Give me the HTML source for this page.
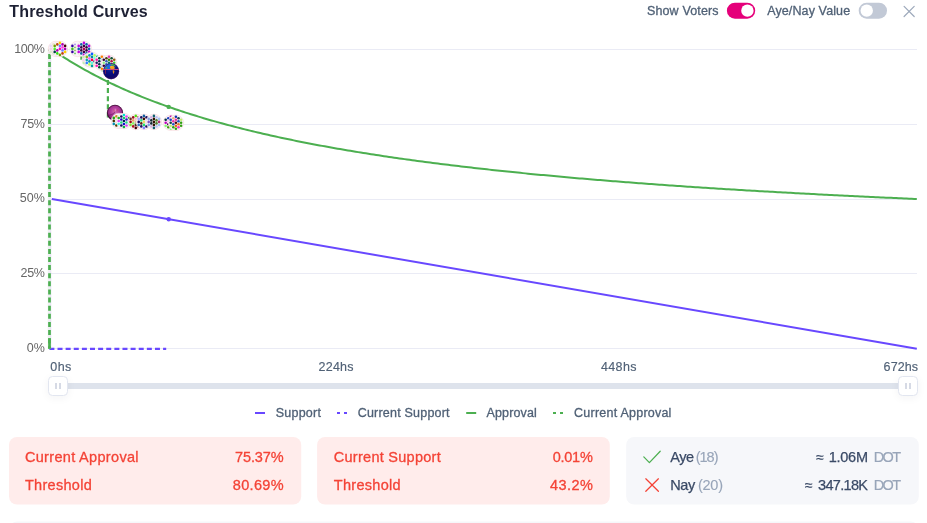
<!DOCTYPE html>
<html><head><meta charset="utf-8"><title>Threshold Curves</title>
<style>
html,body{margin:0;padding:0;background:#fff;}
body{width:927px;height:523px;overflow:hidden;position:relative;font-family:"Liberation Sans",sans-serif;color:#1E2134;}
.chart{position:absolute;left:0;top:0;font-family:"Liberation Sans",sans-serif;}
.tog{position:absolute;top:2.6px;width:28.3px;height:16px;border-radius:8px;}
.tog i{position:absolute;top:1.8px;width:12.4px;height:12.4px;border-radius:50%;background:#fff;}
.track{position:absolute;left:58px;top:383.3px;width:850px;height:5.6px;background:#DEE3EC;}
.handle{position:absolute;top:376.1px;width:18px;height:17.6px;background:#fff;border:1px solid #E2E6F0;border-radius:4.5px;box-shadow:0 2px 8px rgba(30,33,52,0.05);}
.handle:before,.handle:after{content:"";position:absolute;top:6px;width:1.9px;height:5.8px;background:#D6DAE5;}
.handle:before{left:5.9px}.handle:after{left:10px}
</style></head><body>
<svg class="chart" width="927" height="523" viewBox="0 0 927 523">
<line x1="49" x2="917" y1="49.5" y2="49.5" stroke="#EAEBF5" stroke-width="1"/>
<line x1="49" x2="917" y1="124.5" y2="124.5" stroke="#EAEBF5" stroke-width="1"/>
<line x1="49" x2="917" y1="199.5" y2="199.5" stroke="#EAEBF5" stroke-width="1"/>
<line x1="49" x2="917" y1="273.5" y2="273.5" stroke="#EAEBF5" stroke-width="1"/>
<line x1="49" x2="917" y1="348.5" y2="348.5" stroke="#EAEBF5" stroke-width="1"/>
<line x1="48.3" x2="48.3" y1="49" y2="348.5" stroke="#E4E6EC" stroke-width="0.7"/>
<text x="26.8" y="351.8" font-size="12.5" fill="#666" textLength="18.0" lengthAdjust="spacing">0%</text>
<text x="20.6" y="277.1" font-size="12.5" fill="#666" textLength="24.2" lengthAdjust="spacing">25%</text>
<text x="19.7" y="202.3" font-size="12.5" fill="#666" textLength="25.1" lengthAdjust="spacing">50%</text>
<text x="20.6" y="127.6" font-size="12.5" fill="#666" textLength="24.2" lengthAdjust="spacing">75%</text>
<text x="14.2" y="52.9" font-size="12.5" fill="#666" textLength="30.6" lengthAdjust="spacing">100%</text>
<text x="50.3" y="370.8" font-size="12.5" fill="#506176" textLength="21.0" lengthAdjust="spacing" stroke="#506176" stroke-width="0.15">0hs</text>
<text x="318.6" y="370.8" font-size="12.5" fill="#506176" textLength="34.8" lengthAdjust="spacing" stroke="#506176" stroke-width="0.15">224hs</text>
<text x="600.9" y="370.8" font-size="12.5" fill="#506176" textLength="35.6" lengthAdjust="spacing" stroke="#506176" stroke-width="0.15">448hs</text>
<text x="883.6" y="370.8" font-size="12.5" fill="#506176" textLength="34.4" lengthAdjust="spacing" stroke="#506176" stroke-width="0.15">672hs</text>
<path d="M51.80 199.00 L916.80 348.70" fill="none" stroke="#6848FF" stroke-width="2" stroke-linejoin="round"/>
<path d="M51.80 49.30 L54.37 51.07 L56.95 52.80 L59.52 54.51 L62.10 56.18 L64.67 57.83 L67.25 59.45 L69.82 61.04 L72.40 62.61 L74.97 64.15 L77.54 65.66 L80.12 67.15 L82.69 68.62 L85.27 70.06 L87.84 71.48 L90.42 72.87 L92.99 74.25 L95.56 75.60 L98.14 76.94 L100.71 78.25 L103.29 79.54 L105.86 80.82 L108.44 82.07 L111.01 83.31 L113.59 84.52 L116.16 85.72 L118.73 86.91 L121.31 88.07 L123.88 89.22 L126.46 90.35 L129.03 91.47 L131.61 92.57 L134.18 93.66 L136.76 94.73 L139.33 95.78 L141.90 96.82 L144.48 97.85 L147.05 98.87 L149.63 99.87 L152.20 100.85 L154.78 101.83 L157.35 102.79 L159.93 103.74 L162.50 104.67 L165.07 105.60 L167.65 106.51 L170.22 107.41 L172.80 108.30 L175.37 109.18 L177.95 110.05 L180.52 110.90 L183.09 111.75 L185.67 112.59 L188.24 113.41 L190.82 114.23 L193.39 115.04 L195.97 115.83 L198.54 116.62 L201.12 117.40 L203.69 118.17 L206.26 118.93 L208.84 119.68 L211.41 120.42 L213.99 121.16 L216.56 121.88 L219.14 122.60 L221.71 123.31 L224.29 124.01 L226.86 124.70 L229.43 125.39 L232.01 126.07 L234.58 126.74 L237.16 127.40 L239.73 128.06 L242.31 128.71 L244.88 129.35 L247.45 129.99 L250.03 130.62 L252.60 131.24 L255.18 131.86 L257.75 132.47 L260.33 133.07 L262.90 133.67 L265.48 134.26 L268.05 134.84 L270.62 135.42 L273.20 135.99 L275.77 136.56 L278.35 137.12 L280.92 137.68 L283.50 138.23 L286.07 138.78 L288.65 139.32 L291.22 139.85 L293.79 140.38 L296.37 140.90 L298.94 141.42 L301.52 141.94 L304.09 142.45 L306.67 142.95 L309.24 143.45 L311.81 143.95 L314.39 144.44 L316.96 144.92 L319.54 145.40 L322.11 145.88 L324.69 146.35 L327.26 146.82 L329.84 147.29 L332.41 147.75 L334.98 148.20 L337.56 148.65 L340.13 149.10 L342.71 149.54 L345.28 149.98 L347.86 150.42 L350.43 150.85 L353.01 151.28 L355.58 151.70 L358.15 152.12 L360.73 152.54 L363.30 152.95 L365.88 153.36 L368.45 153.77 L371.03 154.17 L373.60 154.57 L376.18 154.97 L378.75 155.36 L381.32 155.75 L383.90 156.14 L386.47 156.52 L389.05 156.90 L391.62 157.28 L394.20 157.65 L396.77 158.03 L399.34 158.39 L401.92 158.76 L404.49 159.12 L407.07 159.48 L409.64 159.84 L412.22 160.19 L414.79 160.54 L417.37 160.89 L419.94 161.23 L422.51 161.57 L425.09 161.91 L427.66 162.25 L430.24 162.59 L432.81 162.92 L435.39 163.25 L437.96 163.57 L440.54 163.90 L443.11 164.22 L445.68 164.54 L448.26 164.86 L450.83 165.17 L453.41 165.49 L455.98 165.80 L458.56 166.10 L461.13 166.41 L463.70 166.71 L466.28 167.01 L468.85 167.31 L471.43 167.61 L474.00 167.90 L476.58 168.20 L479.15 168.49 L481.73 168.77 L484.30 169.06 L486.87 169.34 L489.45 169.63 L492.02 169.91 L494.60 170.18 L497.17 170.46 L499.75 170.73 L502.32 171.01 L504.90 171.28 L507.47 171.55 L510.04 171.81 L512.62 172.08 L515.19 172.34 L517.77 172.60 L520.34 172.86 L522.92 173.12 L525.49 173.38 L528.06 173.63 L530.64 173.88 L533.21 174.13 L535.79 174.38 L538.36 174.63 L540.94 174.88 L543.51 175.12 L546.09 175.36 L548.66 175.60 L551.23 175.84 L553.81 176.08 L556.38 176.32 L558.96 176.55 L561.53 176.79 L564.11 177.02 L566.68 177.25 L569.26 177.48 L571.83 177.71 L574.40 177.93 L576.98 178.16 L579.55 178.38 L582.13 178.60 L584.70 178.82 L587.28 179.04 L589.85 179.26 L592.42 179.47 L595.00 179.69 L597.57 179.90 L600.15 180.11 L602.72 180.33 L605.30 180.54 L607.87 180.74 L610.45 180.95 L613.02 181.16 L615.59 181.36 L618.17 181.57 L620.74 181.77 L623.32 181.97 L625.89 182.17 L628.47 182.37 L631.04 182.56 L633.62 182.76 L636.19 182.96 L638.76 183.15 L641.34 183.34 L643.91 183.53 L646.49 183.72 L649.06 183.91 L651.64 184.10 L654.21 184.29 L656.79 184.48 L659.36 184.66 L661.93 184.84 L664.51 185.03 L667.08 185.21 L669.66 185.39 L672.23 185.57 L674.81 185.75 L677.38 185.93 L679.95 186.10 L682.53 186.28 L685.10 186.46 L687.68 186.63 L690.25 186.80 L692.83 186.97 L695.40 187.15 L697.98 187.32 L700.55 187.48 L703.12 187.65 L705.70 187.82 L708.27 187.99 L710.85 188.15 L713.42 188.32 L716.00 188.48 L718.57 188.64 L721.15 188.81 L723.72 188.97 L726.29 189.13 L728.87 189.29 L731.44 189.44 L734.02 189.60 L736.59 189.76 L739.17 189.92 L741.74 190.07 L744.31 190.22 L746.89 190.38 L749.46 190.53 L752.04 190.68 L754.61 190.83 L757.19 190.98 L759.76 191.13 L762.34 191.28 L764.91 191.43 L767.48 191.58 L770.06 191.73 L772.63 191.87 L775.21 192.02 L777.78 192.16 L780.36 192.30 L782.93 192.45 L785.51 192.59 L788.08 192.73 L790.65 192.87 L793.23 193.01 L795.80 193.15 L798.38 193.29 L800.95 193.43 L803.53 193.57 L806.10 193.70 L808.67 193.84 L811.25 193.97 L813.82 194.11 L816.40 194.24 L818.97 194.38 L821.55 194.51 L824.12 194.64 L826.70 194.77 L829.27 194.90 L831.84 195.03 L834.42 195.16 L836.99 195.29 L839.57 195.42 L842.14 195.55 L844.72 195.67 L847.29 195.80 L849.87 195.93 L852.44 196.05 L855.01 196.18 L857.59 196.30 L860.16 196.42 L862.74 196.55 L865.31 196.67 L867.89 196.79 L870.46 196.91 L873.04 197.03 L875.61 197.15 L878.18 197.27 L880.76 197.39 L883.33 197.51 L885.91 197.63 L888.48 197.74 L891.06 197.86 L893.63 197.98 L896.20 198.09 L898.78 198.21 L901.35 198.32 L903.93 198.44 L906.50 198.55 L909.08 198.66 L911.65 198.78 L914.23 198.89 L916.80 199.00" fill="none" stroke="#4CAF50" stroke-width="2" stroke-linejoin="round"/>
<path d="M49.4 348.8 L166.2 348.8" fill="none" stroke="#6848FF" stroke-width="2.2" stroke-dasharray="5 3.12"/>
<path d="M49.5 348.7 V49.3" fill="none" stroke="#EFEFF3" stroke-width="2.6"/>
<line x1="50.8" x2="50.8" y1="49" y2="348.5" stroke="#D0D3EC" stroke-width="0.5"/>
<path d="M49.5 348.7 V49.3" fill="none" stroke="#4CAF50" stroke-width="2.7" stroke-dasharray="5 3.12" stroke-dashoffset="-5.5"/>
<path d="M49.5 348.7 V338.2" fill="none" stroke="#4CAF50" stroke-width="2.7"/>
<path d="M49.4 49.3 H81.4 V59.9 H102.4 V71.5 H107.9" fill="none" stroke="#4CAF50" stroke-width="2.2" stroke-dasharray="5 3.12" stroke-dashoffset="3.24"/>
<path d="M107.9 80 V120.4" fill="none" stroke="#4CAF50" stroke-width="2.2" stroke-dasharray="5 3.12"/>
<circle cx="168.7" cy="106.88" r="2.2" fill="#4CAF50"/>
<circle cx="168.7" cy="219.23" r="2.2" fill="#6848FF"/>
<g id="voters">
<g><circle cx="56.00" cy="48.90" r="7.75" fill="#F7F5F9" stroke="#F9D6D8" stroke-width="0.6"/><circle cx="50.80" cy="45.90" r="1.30" fill="#E4D8F4"/><circle cx="50.80" cy="48.90" r="1.30" fill="#F2D0EA"/><circle cx="50.80" cy="51.90" r="1.30" fill="#DDEBC8"/><circle cx="53.40" cy="44.40" r="1.30" fill="#EFE6C8"/><circle cx="53.40" cy="47.40" r="1.30" fill="#E6E0F4"/><circle cx="53.40" cy="50.40" r="1.30" fill="#F2D0EA"/><circle cx="53.40" cy="53.40" r="1.30" fill="#D4ECC8"/></g>
<g><circle cx="59.90" cy="48.90" r="7.75" fill="#F7F5F9" stroke="#F9D6D8" stroke-width="0.6"/><circle cx="54.70" cy="45.90" r="1.30" fill="#70A000"/><circle cx="54.70" cy="48.90" r="1.30" fill="#50F030"/><circle cx="54.70" cy="51.90" r="1.30" fill="#004040"/><circle cx="57.30" cy="44.40" r="1.30" fill="#C04010"/><circle cx="57.30" cy="47.40" r="1.30" fill="#F6F6F6"/><circle cx="57.30" cy="50.40" r="1.30" fill="#B000B0"/><circle cx="57.30" cy="53.40" r="1.30" fill="#30E010"/><circle cx="59.90" cy="42.90" r="1.30" fill="#FFD000"/><circle cx="59.90" cy="45.90" r="1.30" fill="#7080FF"/><circle cx="59.90" cy="48.90" r="1.30" fill="#FF00C0"/><circle cx="59.90" cy="51.90" r="1.30" fill="#FAFAFA"/><circle cx="59.90" cy="54.90" r="1.30" fill="#70A000"/><circle cx="62.50" cy="44.40" r="1.30" fill="#B000B0"/><circle cx="62.50" cy="47.40" r="1.30" fill="#FF40E0"/><circle cx="62.50" cy="50.40" r="1.30" fill="#7080FF"/><circle cx="62.50" cy="53.40" r="1.30" fill="#C04010"/><circle cx="65.10" cy="45.90" r="1.30" fill="#400008"/><circle cx="65.10" cy="48.90" r="1.30" fill="#B000B0"/><circle cx="65.10" cy="51.90" r="1.30" fill="#FFD000"/></g>
<g><circle cx="77.60" cy="48.90" r="7.75" fill="#F7F5F9" stroke="#F9D6D8" stroke-width="0.6"/><circle cx="72.40" cy="45.90" r="1.30" fill="#3000A0"/><circle cx="72.40" cy="48.90" r="1.30" fill="#40C020"/><circle cx="72.40" cy="51.90" r="1.30" fill="#3000A0"/><circle cx="75.00" cy="44.40" r="0.95" fill="#B488EC"/><circle cx="75.00" cy="47.40" r="0.95" fill="#8CBC64"/><circle cx="75.00" cy="50.40" r="0.95" fill="#8CBC64"/><circle cx="75.00" cy="53.40" r="0.95" fill="#6CC85C"/></g>
<g><circle cx="83.90" cy="48.90" r="7.75" fill="#F7F5F9" stroke="#F9D6D8" stroke-width="0.6"/><circle cx="78.70" cy="45.90" r="1.30" fill="#C000E0"/><circle cx="78.70" cy="48.90" r="1.30" fill="#1060A8"/><circle cx="78.70" cy="51.90" r="1.30" fill="#C000E0"/><circle cx="81.30" cy="44.40" r="1.30" fill="#1060A8"/><circle cx="81.30" cy="47.40" r="1.30" fill="#3A0040"/><circle cx="81.30" cy="50.40" r="1.30" fill="#3A0040"/><circle cx="81.30" cy="53.40" r="1.30" fill="#1060A8"/><circle cx="83.90" cy="42.90" r="1.30" fill="#C000E0"/><circle cx="83.90" cy="45.90" r="1.30" fill="#3A0040"/><circle cx="83.90" cy="48.90" r="1.30" fill="#B0005A"/><circle cx="83.90" cy="51.90" r="1.30" fill="#3A0040"/><circle cx="83.90" cy="54.90" r="1.30" fill="#C000E0"/><circle cx="86.50" cy="44.40" r="1.30" fill="#1060A8"/><circle cx="86.50" cy="47.40" r="1.30" fill="#3A0040"/><circle cx="86.50" cy="50.40" r="1.30" fill="#3A0040"/><circle cx="86.50" cy="53.40" r="1.30" fill="#1060A8"/><circle cx="89.10" cy="45.90" r="1.30" fill="#C000E0"/><circle cx="89.10" cy="48.90" r="1.30" fill="#1060A8"/><circle cx="89.10" cy="51.90" r="1.30" fill="#C000E0"/></g>
<g><circle cx="89.00" cy="59.90" r="6.90" fill="#F7F5F9" stroke="#F9D6D8" stroke-width="0.6"/><circle cx="83.80" cy="56.90" r="1.30" fill="#C4F0B4"/><circle cx="83.80" cy="59.90" r="1.30" fill="#F4CCF4"/><circle cx="83.80" cy="62.90" r="1.30" fill="#C4F0B4"/><circle cx="86.40" cy="55.40" r="1.30" fill="#D8E8F8"/><circle cx="86.40" cy="58.40" r="1.30" fill="#F4CCF4"/><circle cx="86.40" cy="61.40" r="1.30" fill="#D8E8F8"/><circle cx="86.40" cy="64.40" r="1.30" fill="#C4F0B4"/></g>
<g><circle cx="92.00" cy="59.90" r="7.75" fill="#F7F5F9" stroke="#F9D6D8" stroke-width="0.6"/><circle cx="86.80" cy="56.90" r="1.30" fill="#90B010"/><circle cx="86.80" cy="59.90" r="1.30" fill="#10A0B0"/><circle cx="86.80" cy="62.90" r="1.30" fill="#3080FF"/><circle cx="89.40" cy="55.40" r="1.30" fill="#10A0B0"/><circle cx="89.40" cy="58.40" r="1.30" fill="#FF60F0"/><circle cx="89.40" cy="61.40" r="1.30" fill="#1090B0"/><circle cx="89.40" cy="64.40" r="1.30" fill="#B0FF50"/><circle cx="92.00" cy="53.90" r="1.30" fill="#1060FF"/><circle cx="92.00" cy="56.90" r="1.30" fill="#0090A0"/><circle cx="92.00" cy="59.90" r="1.30" fill="#FF0040"/><circle cx="92.00" cy="62.90" r="1.30" fill="#60FFD8"/><circle cx="92.00" cy="65.90" r="1.30" fill="#00A0A0"/><circle cx="94.60" cy="55.40" r="1.30" fill="#B0FF60"/><circle cx="94.60" cy="58.40" r="1.30" fill="#70FFE0"/><circle cx="94.60" cy="61.40" r="1.30" fill="#202060"/><circle cx="94.60" cy="64.40" r="1.30" fill="#FFD0B0"/><circle cx="97.20" cy="56.90" r="1.30" fill="#10A0A0"/><circle cx="97.20" cy="59.90" r="1.30" fill="#FF60F0"/><circle cx="97.20" cy="62.90" r="1.30" fill="#3080FF"/></g>
<g><circle cx="101.90" cy="62.80" r="7.75" fill="#F7F5F9" stroke="#F9D6D8" stroke-width="0.6"/><circle cx="96.70" cy="59.80" r="1.30" fill="#FF10B0"/><circle cx="96.70" cy="62.80" r="1.30" fill="#202060"/><circle cx="96.70" cy="65.80" r="1.30" fill="#FF10B0"/><circle cx="99.30" cy="58.30" r="1.30" fill="#005030"/><circle cx="99.30" cy="61.30" r="1.30" fill="#003050"/><circle cx="99.30" cy="64.30" r="1.30" fill="#003050"/><circle cx="99.30" cy="67.30" r="1.30" fill="#005030"/><circle cx="101.90" cy="56.80" r="1.30" fill="#FF8000"/><circle cx="101.90" cy="59.80" r="1.30" fill="#A0D8F0"/><circle cx="101.90" cy="62.80" r="1.30" fill="#E8E8F0"/><circle cx="101.90" cy="65.80" r="1.30" fill="#A0D8F0"/><circle cx="101.90" cy="68.80" r="1.30" fill="#FF8000"/><circle cx="104.50" cy="58.30" r="1.30" fill="#005030"/><circle cx="104.50" cy="61.30" r="1.30" fill="#003050"/><circle cx="104.50" cy="64.30" r="1.30" fill="#003050"/><circle cx="104.50" cy="67.30" r="1.30" fill="#005030"/><circle cx="107.10" cy="59.80" r="1.30" fill="#FF10B0"/><circle cx="107.10" cy="62.80" r="1.30" fill="#202060"/><circle cx="107.10" cy="65.80" r="1.30" fill="#FF10B0"/></g>
<g><circle cx="109.00" cy="62.80" r="7.75" fill="#F7F5F9" stroke="#F9D6D8" stroke-width="0.6"/><circle cx="103.80" cy="59.80" r="1.30" fill="#300030"/><circle cx="103.80" cy="62.80" r="1.30" fill="#90F080"/><circle cx="103.80" cy="65.80" r="1.30" fill="#300030"/><circle cx="106.40" cy="58.30" r="1.30" fill="#504010"/><circle cx="106.40" cy="61.30" r="1.30" fill="#3060B0"/><circle cx="106.40" cy="64.30" r="1.30" fill="#3060B0"/><circle cx="106.40" cy="67.30" r="1.30" fill="#504010"/><circle cx="109.00" cy="56.80" r="1.30" fill="#E030B0"/><circle cx="109.00" cy="59.80" r="1.30" fill="#408000"/><circle cx="109.00" cy="62.80" r="1.30" fill="#008060"/><circle cx="109.00" cy="65.80" r="1.30" fill="#408000"/><circle cx="109.00" cy="68.80" r="1.30" fill="#E030B0"/><circle cx="111.60" cy="58.30" r="1.30" fill="#105030"/><circle cx="111.60" cy="61.30" r="1.30" fill="#B01040"/><circle cx="111.60" cy="64.30" r="1.30" fill="#B01040"/><circle cx="111.60" cy="67.30" r="1.30" fill="#105030"/><circle cx="114.20" cy="59.80" r="1.30" fill="#906010"/><circle cx="114.20" cy="62.80" r="1.30" fill="#40D030"/><circle cx="114.20" cy="65.80" r="1.30" fill="#906010"/></g>
<g><defs><radialGradient id="gl" cx="0.42" cy="0.3" r="0.62"><stop offset="0" stop-color="#1C50D8"/><stop offset="0.5" stop-color="#121C98"/><stop offset="0.85" stop-color="#130F74"/><stop offset="1" stop-color="#2A0E64"/></radialGradient><clipPath id="gc"><circle cx="111.1" cy="71.2" r="7.95"/></clipPath><filter id="gb" x="-20%" y="-20%" width="140%" height="140%"><feGaussianBlur stdDeviation="0.35"/></filter></defs>
<circle cx="111.1" cy="71.2" r="7.95" fill="url(#gl)"/>
<g clip-path="url(#gc)"><g filter="url(#gb)">
<path d="M104.2 68.9 Q105 65.6 108 64.4 Q110.6 63.4 112.6 64.2 L111 69 Z" fill="#1E66E4"/>
<path d="M110.2 64.2 Q112 63.4 114 64.4 Q115.4 65.4 115.8 66.8 Q114.4 66.4 113 65.8 Q111.4 65.6 110.2 64.2 Z" fill="#44B254"/>
<path d="M105 68.6 Q105.6 67 107.2 66.6 Q107.6 67.8 106.8 68.8 Z" fill="#46AE4E"/>
<path d="M109.9 66.2 Q111.6 65.2 113.6 66 Q115 67 114.8 68.6 Q113 69.4 110.8 69 Q109.6 67.6 109.9 66.2 Z" fill="#F2A41E"/>
<path d="M110.6 66.4 Q111.4 65.9 112.4 66.2 Q111.6 67.4 110.6 66.4 Z" fill="#F6C83A"/>
<rect x="103" y="69.5" width="16.5" height="10" fill="#0C0E6A" opacity="0.45"/>
<path d="M112.8 70.2 Q114.2 70 114.4 71.4 Q114 73.4 113.3 74 Q112.6 72.6 112.8 70.2 Z" fill="#E0861C"/>
<rect x="103" y="69.0" width="16.5" height="0.95" fill="#D8487E"/>
<rect x="105.2" y="69.6" width="0.6" height="4.2" fill="#B02C44"/>
</g></g>
<circle cx="111.1" cy="71.2" r="7.75" fill="none" stroke="#5A1C78" stroke-width="0.4" opacity="0.7"/></g>
<g><defs><radialGradient id="pa" cx="0.5" cy="0.42" r="0.5"><stop offset="0" stop-color="#D874BC"/><stop offset="0.5" stop-color="#B23E9C"/><stop offset="0.85" stop-color="#982C88"/><stop offset="1" stop-color="#6E1862"/></radialGradient></defs>
<circle cx="115" cy="112.8" r="7.9" fill="url(#pa)"/>
<circle cx="115" cy="112.8" r="7.6" fill="none" stroke="#36082C" stroke-width="0.75"/>
<path d="M113.8 109.4 L114.4 112 M117.4 109.2 L116.9 111.6" stroke="#C8324C" stroke-width="0.55" fill="none"/>
<path d="M115.3 108.8 L115.3 112.6" stroke="#ECA8DC" stroke-width="0.5" fill="none"/>
<path d="M107.8 115.6 Q112 115.4 115.6 111.8" stroke="#5A1050" stroke-width="0.55" fill="none"/></g>
<g><circle cx="119.00" cy="120.90" r="7.75" fill="#F7F5F9" stroke="#F9D6D8" stroke-width="0.6"/><circle cx="113.80" cy="117.90" r="1.30" fill="#20A010"/><circle cx="113.80" cy="120.90" r="1.30" fill="#403000"/><circle cx="113.80" cy="123.90" r="1.30" fill="#0090B0"/><circle cx="116.40" cy="116.40" r="1.30" fill="#D09020"/><circle cx="116.40" cy="119.40" r="1.30" fill="#ECE6DA"/><circle cx="116.40" cy="122.40" r="1.30" fill="#ECE6DA"/><circle cx="116.40" cy="125.40" r="1.30" fill="#504000"/></g>
<g><circle cx="123.90" cy="121.00" r="7.75" fill="#F7F5F9" stroke="#F9D6D8" stroke-width="0.6"/><circle cx="118.70" cy="118.00" r="1.30" fill="#20B020"/><circle cx="118.70" cy="121.00" r="1.30" fill="#E040F0"/><circle cx="118.70" cy="124.00" r="1.30" fill="#40F0E0"/><circle cx="121.30" cy="116.50" r="1.30" fill="#101060"/><circle cx="121.30" cy="119.50" r="1.30" fill="#1010C0"/><circle cx="121.30" cy="122.50" r="1.30" fill="#20E080"/><circle cx="121.30" cy="125.50" r="1.30" fill="#101060"/><circle cx="123.90" cy="115.00" r="1.30" fill="#00E0D0"/><circle cx="123.90" cy="118.00" r="1.30" fill="#10D060"/><circle cx="123.90" cy="121.00" r="1.30" fill="#002050"/><circle cx="123.90" cy="124.00" r="1.30" fill="#1010D0"/><circle cx="123.90" cy="127.00" r="1.30" fill="#10B040"/><circle cx="126.50" cy="116.50" r="1.30" fill="#E040F0"/><circle cx="126.50" cy="119.50" r="1.30" fill="#2020C0"/><circle cx="126.50" cy="122.50" r="1.30" fill="#20E080"/><circle cx="126.50" cy="125.50" r="1.30" fill="#E040F0"/><circle cx="129.10" cy="118.00" r="1.30" fill="#20A030"/><circle cx="129.10" cy="121.00" r="1.30" fill="#E040F0"/><circle cx="129.10" cy="124.00" r="1.30" fill="#40F0E0"/></g>
<g><circle cx="135.80" cy="121.90" r="7.75" fill="#F7F5F9" stroke="#F9D6D8" stroke-width="0.6"/><circle cx="130.60" cy="118.90" r="1.30" fill="#703020"/><circle cx="130.60" cy="121.90" r="1.30" fill="#A00010"/><circle cx="130.60" cy="124.90" r="1.30" fill="#80E030"/><circle cx="133.20" cy="117.40" r="1.30" fill="#A01020"/><circle cx="133.20" cy="120.40" r="1.30" fill="#F0A060"/><circle cx="133.20" cy="123.40" r="1.30" fill="#90F060"/><circle cx="133.20" cy="126.40" r="1.30" fill="#B01020"/><circle cx="135.80" cy="115.90" r="1.30" fill="#50E010"/><circle cx="135.80" cy="118.90" r="1.30" fill="#F0C0C0"/><circle cx="135.80" cy="121.90" r="1.30" fill="#D0B090"/><circle cx="135.80" cy="124.90" r="1.30" fill="#503020"/><circle cx="135.80" cy="127.90" r="1.30" fill="#400000"/><circle cx="138.40" cy="117.40" r="1.30" fill="#A01020"/><circle cx="138.40" cy="120.40" r="1.30" fill="#F0A060"/><circle cx="138.40" cy="123.40" r="1.30" fill="#90F060"/><circle cx="138.40" cy="126.40" r="1.30" fill="#B01020"/><circle cx="141.00" cy="118.90" r="1.30" fill="#703020"/><circle cx="141.00" cy="121.90" r="1.30" fill="#A00010"/><circle cx="141.00" cy="124.90" r="1.30" fill="#80E030"/></g>
<g><circle cx="143.90" cy="121.90" r="7.75" fill="#F7F5F9" stroke="#F9D6D8" stroke-width="0.6"/><circle cx="138.70" cy="118.90" r="1.30" fill="#A0A0FF"/><circle cx="138.70" cy="121.90" r="1.30" fill="#100060"/><circle cx="138.70" cy="124.90" r="1.30" fill="#3070C0"/><circle cx="141.30" cy="117.40" r="1.30" fill="#201060"/><circle cx="141.30" cy="120.40" r="1.30" fill="#30E080"/><circle cx="141.30" cy="123.40" r="1.30" fill="#602010"/><circle cx="141.30" cy="126.40" r="1.30" fill="#201060"/><circle cx="143.90" cy="115.90" r="1.30" fill="#1060A0"/><circle cx="143.90" cy="118.90" r="1.30" fill="#401000"/><circle cx="143.90" cy="121.90" r="1.30" fill="#F0D860"/><circle cx="143.90" cy="124.90" r="1.30" fill="#20E070"/><circle cx="143.90" cy="127.90" r="1.30" fill="#8080FF"/><circle cx="146.50" cy="117.40" r="1.30" fill="#201060"/><circle cx="146.50" cy="120.40" r="1.30" fill="#E4E4F2"/><circle cx="146.50" cy="123.40" r="1.30" fill="#E4E4F2"/><circle cx="146.50" cy="126.40" r="1.30" fill="#201060"/><circle cx="149.10" cy="118.90" r="1.30" fill="#3070C0"/><circle cx="149.10" cy="121.90" r="1.30" fill="#100060"/><circle cx="149.10" cy="124.90" r="1.30" fill="#A0A0FF"/></g>
<g><circle cx="153.90" cy="121.90" r="7.75" fill="#F7F5F9" stroke="#F9D6D8" stroke-width="0.6"/><circle cx="148.70" cy="118.90" r="1.30" fill="#80A0E0"/><circle cx="148.70" cy="121.90" r="1.30" fill="#8050C0"/><circle cx="148.70" cy="124.90" r="1.30" fill="#80A0E0"/><circle cx="151.30" cy="117.40" r="1.30" fill="#D8B0E0"/><circle cx="151.30" cy="120.40" r="1.30" fill="#102830"/><circle cx="151.30" cy="123.40" r="1.30" fill="#102830"/><circle cx="151.30" cy="126.40" r="1.30" fill="#D8B0E0"/><circle cx="153.90" cy="115.90" r="1.30" fill="#106070"/><circle cx="153.90" cy="118.90" r="1.30" fill="#301000"/><circle cx="153.90" cy="121.90" r="1.30" fill="#301000"/><circle cx="153.90" cy="124.90" r="1.30" fill="#301000"/><circle cx="153.90" cy="127.90" r="1.30" fill="#106070"/><circle cx="156.50" cy="117.40" r="1.30" fill="#C0C0F0"/><circle cx="156.50" cy="120.40" r="1.30" fill="#508030"/><circle cx="156.50" cy="123.40" r="1.30" fill="#508030"/><circle cx="156.50" cy="126.40" r="1.30" fill="#C0C0F0"/><circle cx="159.10" cy="118.90" r="1.30" fill="#A0C0F0"/><circle cx="159.10" cy="121.90" r="1.30" fill="#B03070"/><circle cx="159.10" cy="124.90" r="1.30" fill="#A0C0F0"/></g>
<g><circle cx="170.90" cy="122.80" r="7.75" fill="#F7F5F9" stroke="#F9D6D8" stroke-width="0.6"/><circle cx="165.70" cy="119.80" r="1.30" fill="#003040"/><circle cx="165.70" cy="122.80" r="1.30" fill="#C000C0"/><circle cx="165.70" cy="125.80" r="1.30" fill="#80FF70"/><circle cx="168.30" cy="118.30" r="1.30" fill="#2040C0"/><circle cx="168.30" cy="121.30" r="1.30" fill="#FFB0FF"/><circle cx="168.30" cy="124.30" r="1.30" fill="#500050"/><circle cx="168.30" cy="127.30" r="1.30" fill="#40A010"/><circle cx="170.90" cy="116.80" r="1.30" fill="#C000A0"/><circle cx="170.90" cy="119.80" r="1.30" fill="#2040C0"/><circle cx="170.90" cy="122.80" r="1.30" fill="#003040"/><circle cx="170.90" cy="125.80" r="1.30" fill="#40A010"/><circle cx="170.90" cy="128.80" r="1.30" fill="#80FF80"/><circle cx="173.50" cy="118.30" r="1.30" fill="#2040C0"/><circle cx="173.50" cy="121.30" r="1.30" fill="#FFB0FF"/><circle cx="173.50" cy="124.30" r="1.30" fill="#500050"/><circle cx="173.50" cy="127.30" r="1.30" fill="#40A010"/><circle cx="176.10" cy="119.80" r="1.30" fill="#003040"/><circle cx="176.10" cy="122.80" r="1.30" fill="#C000C0"/><circle cx="176.10" cy="125.80" r="1.30" fill="#80FF70"/></g>
<g><circle cx="175.90" cy="122.80" r="7.75" fill="#F7F5F9" stroke="#F9D6D8" stroke-width="0.6"/><circle cx="170.70" cy="119.80" r="1.30" fill="#2040C0"/><circle cx="170.70" cy="122.80" r="1.30" fill="#104050"/><circle cx="170.70" cy="125.80" r="1.30" fill="#C0F070"/><circle cx="173.30" cy="118.30" r="1.30" fill="#F0B080"/><circle cx="173.30" cy="121.30" r="1.30" fill="#F030A0"/><circle cx="173.30" cy="124.30" r="1.30" fill="#2050C0"/><circle cx="173.30" cy="127.30" r="1.30" fill="#30A010"/><circle cx="175.90" cy="116.80" r="1.30" fill="#1030B0"/><circle cx="175.90" cy="119.80" r="1.30" fill="#F030A0"/><circle cx="175.90" cy="122.80" r="1.30" fill="#400010"/><circle cx="175.90" cy="125.80" r="1.30" fill="#F06010"/><circle cx="175.90" cy="128.80" r="1.30" fill="#30A010"/><circle cx="178.50" cy="118.30" r="1.30" fill="#104050"/><circle cx="178.50" cy="121.30" r="1.30" fill="#2050C0"/><circle cx="178.50" cy="124.30" r="1.30" fill="#F07020"/><circle cx="178.50" cy="127.30" r="1.30" fill="#F030C0"/><circle cx="181.10" cy="119.80" r="1.30" fill="#C0F070"/><circle cx="181.10" cy="122.80" r="1.30" fill="#30A010"/><circle cx="181.10" cy="125.80" r="1.30" fill="#30A010"/></g>
</g>
<text x="9.3" y="16.8" font-size="16" fill="#1E2134" font-weight="700" textLength="138.4" lengthAdjust="spacing">Threshold Curves</text>
<text x="646.9" y="14.8" font-size="12.5" fill="#506176" textLength="71.7" lengthAdjust="spacing" stroke="#506176" stroke-width="0.30">Show Voters</text>
<text x="767.2" y="14.8" font-size="12.5" fill="#506176" textLength="82.9" lengthAdjust="spacing" stroke="#506176" stroke-width="0.30">Aye/Nay Value</text>
<path d="M904.1 6.4 L914.2 16.5 M914.2 6.4 L904.1 16.5" stroke="#9DA9BB" stroke-width="1.2" fill="none" stroke-linecap="round"/>
<rect x="726.9" y="2.65" width="28.3" height="16" rx="8" fill="#E5007A"/><circle cx="747.4" cy="10.65" r="6.2" fill="#fff"/>
<rect x="858.7" y="2.65" width="28.3" height="16" rx="8" fill="#C2C9D6"/><circle cx="866.75" cy="10.65" r="6.2" fill="#fff"/>
<path d="M255 413 H265" stroke="#6848FF" stroke-width="2"/>
<text x="275.8" y="416.6" font-size="12.5" fill="#506176" textLength="45.1" lengthAdjust="spacing" stroke="#506176" stroke-width="0.30">Support</text>
<path d="M337 413 H340 M344 413 H347" stroke="#6848FF" stroke-width="2"/>
<text x="357.7" y="416.6" font-size="12.5" fill="#506176" textLength="91.9" lengthAdjust="spacing" stroke="#506176" stroke-width="0.30">Current Support</text>
<path d="M466.2 413 H476.2" stroke="#4CAF50" stroke-width="2"/>
<text x="486.5" y="416.6" font-size="12.5" fill="#506176" textLength="50.4" lengthAdjust="spacing" stroke="#506176" stroke-width="0.30">Approval</text>
<path d="M553 413 H556 M560 413 H563" stroke="#4CAF50" stroke-width="2"/>
<text x="574.1" y="416.6" font-size="12.5" fill="#506176" textLength="97.3" lengthAdjust="spacing" stroke="#506176" stroke-width="0.30">Current Approval</text>
<rect x="9" y="437" width="292.2" height="67.6" rx="8" fill="#FFECEB"/>
<rect x="317.1" y="437" width="292.7" height="67.6" rx="8" fill="#FFECEB"/>
<rect x="626.2" y="437" width="292.6" height="67.6" rx="8" fill="#F6F7FA"/>
<rect x="9" y="521.5" width="909.8" height="30" rx="8" fill="#F6F7FA"/>
<text x="24.9" y="461.8" font-size="14.5" fill="#F44336" textLength="113.7" lengthAdjust="spacing" stroke="#F44336" stroke-width="0.30">Current Approval</text>
<text x="24.9" y="489.6" font-size="14.5" fill="#F44336" textLength="66.9" lengthAdjust="spacing" stroke="#F44336" stroke-width="0.30">Threshold</text>
<text x="235.1" y="461.8" font-size="14.5" fill="#F44336" textLength="48.5" lengthAdjust="spacing" stroke="#F44336" stroke-width="0.30">75.37%</text>
<text x="232.8" y="489.6" font-size="14.5" fill="#F44336" textLength="50.8" lengthAdjust="spacing" stroke="#F44336" stroke-width="0.30">80.69%</text>
<text x="333.8" y="461.8" font-size="14.5" fill="#F44336" textLength="106.9" lengthAdjust="spacing" stroke="#F44336" stroke-width="0.30">Current Support</text>
<text x="333.8" y="489.6" font-size="14.5" fill="#F44336" textLength="66.9" lengthAdjust="spacing" stroke="#F44336" stroke-width="0.30">Threshold</text>
<text x="552.8" y="461.8" font-size="14.5" fill="#F44336" textLength="40.0" lengthAdjust="spacing" stroke="#F44336" stroke-width="0.30">0.01%</text>
<text x="550.1" y="489.6" font-size="14.5" fill="#F44336" textLength="42.7" lengthAdjust="spacing" stroke="#F44336" stroke-width="0.30">43.2%</text>
<path d="M643.8 456.9 L649.4 462.6 L660.2 451.2" stroke="#4CAF50" stroke-width="1.25" fill="none" stroke-linecap="round" stroke-linejoin="round"/>
<path d="M645.8 478.8 L658.4 491.3 M658.4 478.8 L645.8 491.3" stroke="#F44336" stroke-width="1.25" fill="none" stroke-linecap="round"/>
<text x="670.3" y="461.8" font-size="14.5" fill="#3A4A66" textLength="23.9" lengthAdjust="spacing" stroke="#3A4A66" stroke-width="0.25">Aye</text>
<text x="695.7" y="461.8" font-size="14.5" fill="#98A5B9" textLength="22.8" lengthAdjust="spacing" stroke="#98A5B9" stroke-width="0.12">(18)</text>
<text x="670.3" y="489.6" font-size="14.5" fill="#3A4A66" textLength="24.9" lengthAdjust="spacing" stroke="#3A4A66" stroke-width="0.25">Nay</text>
<text x="698.0" y="489.6" font-size="14.5" fill="#98A5B9" textLength="25.0" lengthAdjust="spacing" stroke="#98A5B9" stroke-width="0.12">(20)</text>
<text x="816.2" y="461.8" font-size="14" fill="#3A4A66" stroke="#3A4A66" stroke-width="0.20">≈</text>
<text x="828.7" y="461.8" font-size="14.5" fill="#3A4A66" textLength="39.3" lengthAdjust="spacing" stroke="#3A4A66" stroke-width="0.25">1.06M</text>
<text x="873.8" y="461.8" font-size="14.5" fill="#98A5B9" textLength="27.2" lengthAdjust="spacing" stroke="#98A5B9" stroke-width="0.20">DOT</text>
<text x="805.1" y="489.6" font-size="14" fill="#3A4A66" stroke="#3A4A66" stroke-width="0.20">≈</text>
<text x="818.1" y="489.6" font-size="14.5" fill="#3A4A66" textLength="49.9" lengthAdjust="spacing" stroke="#3A4A66" stroke-width="0.25">347.18K</text>
<text x="873.8" y="489.6" font-size="14.5" fill="#98A5B9" textLength="27.2" lengthAdjust="spacing" stroke="#98A5B9" stroke-width="0.20">DOT</text>
</svg>
<div class="track"></div>
<div class="handle" style="left:48px"></div>
<div class="handle" style="left:898px"></div>
</body></html>
